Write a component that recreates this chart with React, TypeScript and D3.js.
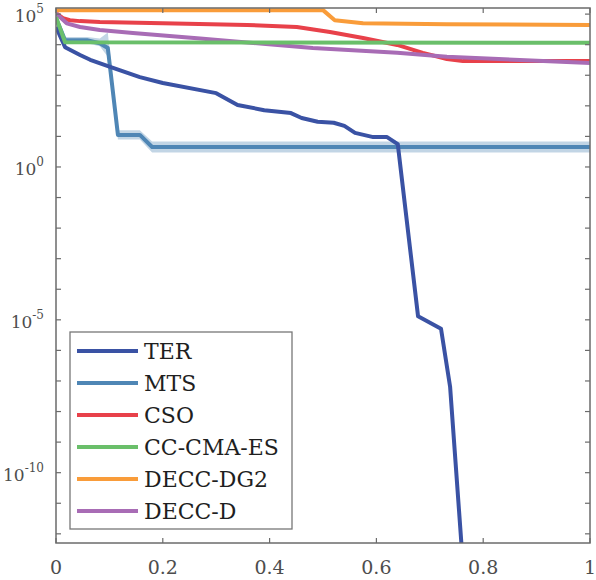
import { useEffect, useRef } from 'react'
import * as d3 from 'd3'

// Series (x = fraction of evaluations, y = fitness)
const terX = [0, 0.017, 0.045, 0.064, 0.1, 0.157, 0.2, 0.3, 0.34, 0.39, 0.44, 0.46, 0.49, 0.52, 0.54, 0.56, 0.594, 0.62, 0.64, 0.678, 0.721, 0.738, 0.762]
const terY = [3.8e4, 8.3e3, 4.6e3, 3.2e3, 1.9e3, 8.7e2, 5.6e2, 2.6e2, 1.07e2, 72, 58, 40, 30, 28, 22, 13, 9.5, 9.5, 5.6, 1.3e-5, 5.1e-6, 6.5e-8, 1e-13]

const mtsX = [0, 0.017, 0.058, 0.082, 0.097, 0.116, 0.157, 0.18, 1]
const mtsY = [7.4e4, 1.4e4, 1.4e4, 1.12e4, 7.8e3, 11.2, 11.2, 4.5, 4.5]
const mtsHi = [8.9e4, 1.78e4, 1.78e4, 1.58e4, 2.5e4, 15.8, 15.8, 6.8, 6.8]
const mtsLo = [6.3e4, 1.12e4, 1.12e4, 8.9e3, 4e3, 7.9, 7.9, 2.95, 2.95]

const csoX = [0, 0.013, 0.026, 0.045, 0.082, 0.2, 0.358, 0.451, 0.513, 0.575, 0.639, 0.687, 0.732, 0.762, 1]
const csoY = [1.07e5, 7.4e4, 6.3e4, 5.9e4, 5.5e4, 5.0e4, 4.4e4, 3.8e4, 2.6e4, 1.66e4, 9.8e3, 5.4e3, 3.4e3, 2.9e3, 2.9e3]

const ccX = [0, 0.017, 1]
const ccY = [7.9e4, 1.2e4, 1.15e4]

const dg2X = [0, 0.5, 0.522, 0.575, 0.732, 1]
const dg2Y = [1.35e5, 1.35e5, 6.3e4, 5e4, 4.7e4, 4.4e4]

const deccdX = [0, 0.02, 0.045, 0.082, 0.144, 0.27, 0.481, 0.639, 0.732, 1]
const deccdY = [1.07e5, 5e4, 3.8e4, 3e4, 2.4e4, 1.58e4, 7.8e3, 5.4e3, 4e3, 2.5e3]

const legendNames = ['TER', 'MTS', 'CSO', 'CC-CMA-ES', 'DECC-DG2', 'DECC-D']
const legendColors = ['#3a52a4', '#4f86b5', '#e8414a', '#6abf6a', '#f99c3a', '#a86cb5']

const xTicks = [0, 0.2, 0.4, 0.6, 0.8, 1]
const xTickLabels = ['0', '0.2', '0.4', '0.6', '0.8', '1']
const yLabelExps = [5, 0, -5, -10]

const FONT = 'DejaVu Serif'

function App() {
  const ref = useRef(null)

  useEffect(() => {
    const root = d3.select(ref.current)
    root.selectAll('*').remove()

    const W = 596, H = 580
    const left = 56, right = 590, top = 8, bottom = 543

    const svg = root.append('svg').attr('width', W).attr('height', H)
      .style('display', 'block')
      .style('font-family', FONT)

    const x = d3.scaleLinear().domain([0, 1]).range([left, right])
    const y = d3.scaleLog().domain([Math.pow(10, -12.3), Math.pow(10, 5.2)]).range([bottom, top])

    svg.append('defs').append('clipPath').attr('id', 'plotclip')
      .append('rect').attr('x', left).attr('y', top).attr('width', right - left).attr('height', bottom - top)

    const plot = svg.append('g').attr('clip-path', 'url(#plotclip)')

    // MTS shaded band
    const area = d3.area<number>()
      .x(i => x(mtsX[i]))
      .y0(i => y(mtsLo[i]))
      .y1(i => y(mtsHi[i]))
    plot.append('path').attr('d', area(d3.range(mtsX.length)))
      .attr('fill', '#4f86b5').attr('opacity', 0.35)

    const drawLine = (xs, ys, color) => {
      const line = d3.line<number>().x(i => x(xs[i])).y(i => y(ys[i]))
      plot.append('path').attr('d', line(d3.range(xs.length)))
        .attr('fill', 'none').attr('stroke', color).attr('stroke-width', 4)
        .attr('stroke-linejoin', 'round')
    }

    drawLine(mtsX, mtsY, legendColors[1])
    drawLine(terX, terY, legendColors[0])
    drawLine(csoX, csoY, legendColors[2])
    drawLine(deccdX, deccdY, legendColors[5])
    drawLine(ccX, ccY, legendColors[3])
    drawLine(dg2X, dg2Y, legendColors[4])

    // box + ticks
    const axisColor = '#6b6b6b'
    svg.append('rect').attr('x', left).attr('y', top).attr('width', right - left).attr('height', bottom - top)
      .attr('fill', 'none').attr('stroke', axisColor).attr('stroke-width', 1.5)

    const tickLen = 5
    xTicks.forEach(t => {
      svg.append('line').attr('x1', x(t)).attr('x2', x(t)).attr('y1', bottom).attr('y2', bottom - tickLen)
        .attr('stroke', axisColor).attr('stroke-width', 1.2)
      svg.append('line').attr('x1', x(t)).attr('x2', x(t)).attr('y1', top).attr('y2', top + tickLen)
        .attr('stroke', axisColor).attr('stroke-width', 1.2)
    })
    d3.range(-12, 6).forEach(e => {
      const yy = y(Math.pow(10, e))
      svg.append('line').attr('x1', left).attr('x2', left + tickLen).attr('y1', yy).attr('y2', yy)
        .attr('stroke', axisColor).attr('stroke-width', 1.2)
      svg.append('line').attr('x1', right).attr('x2', right - tickLen).attr('y1', yy).attr('y2', yy)
        .attr('stroke', axisColor).attr('stroke-width', 1.2)
    })

    // tick labels
    const labelColor = '#4d4d4d'
    xTicks.forEach((t, i) => {
      svg.append('text').attr('x', x(t)).attr('y', 574)
        .attr('text-anchor', 'middle').attr('font-size', 19).attr('fill', labelColor)
        .text(xTickLabels[i])
    })
    yLabelExps.forEach(e => {
      const txt = svg.append('text').attr('x', 44).attr('y', y(Math.pow(10, e)) + 8)
        .attr('text-anchor', 'end').attr('font-size', 17).attr('fill', labelColor)
      txt.append('tspan').text('10')
      txt.append('tspan').attr('dy', -9).attr('font-size', 12).text(String(e))
    })

    // legend
    const lg = svg.append('g')
    lg.append('rect').attr('x', 70).attr('y', 332).attr('width', 222).attr('height', 197)
      .attr('fill', '#fff').attr('stroke', '#777').attr('stroke-width', 1.3)
    legendNames.forEach((name, i) => {
      const yy = 351 + i * 32
      lg.append('line').attr('x1', 77).attr('x2', 138).attr('y1', yy).attr('y2', yy)
        .attr('stroke', legendColors[i]).attr('stroke-width', 4)
      lg.append('text').attr('x', 144).attr('y', yy).attr('dy', '0.36em')
        .attr('font-size', 22).attr('fill', '#1f1f1f').text(name)
    })
  }, [])

  return <div ref={ref} style={{ position: 'absolute', left: 0, top: 0 }} />
}

export default App
